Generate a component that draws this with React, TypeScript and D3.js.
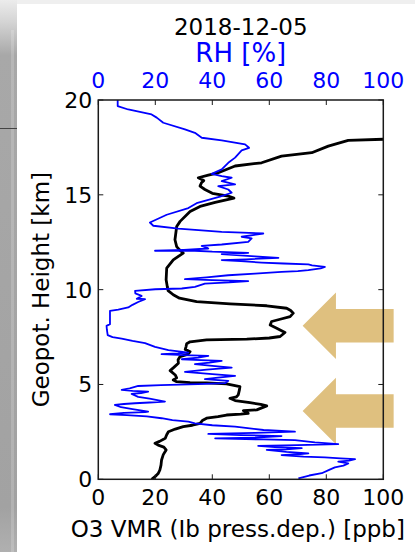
import * as d3 from "d3";

const W = 415;
const H = 552;
const PLOT = { left: 98.3, right: 383.3, top: 100, bottom: 479.3 };

// O3 volume mixing ratio [ppb] vs geopotential height [km]
const o3Ppb = [18.7, 20.0, 21.0, 21.6, 22.0, 22.2, 22.8, 23.8, 23.0, 21.0, 19.9, 21.5, 23.5, 24.0, 24.6, 27.0, 29.8, 33.0, 35.7, 36.5, 38.0, 42.0, 45.0, 50.0, 52.6, 50.9, 55.6, 59.1, 57.0, 53.2, 48.0, 46.2, 48.5, 49.1, 49.5, 49.7, 45.0, 38.0, 32.2, 27.5, 26.3, 27.5, 27.0, 25.2, 26.5, 28.1, 28.0, 28.7, 31.5, 32.2, 30.5, 30.8, 31.0, 32.2, 38.0, 52.1, 60.0, 63.8, 65.5, 62.6, 60.3, 60.8, 63.8, 67.3, 68.4, 67.5, 66.1, 59.1, 46.2, 34.5, 28.5, 26.3, 24.5, 24.2, 23.8, 24.0, 26.3, 29.8, 28.5, 27.5, 26.9, 27.5, 28.7, 32.2, 35.7, 41.0, 47.6, 45.6, 40.0, 37.4, 35.7, 36.2, 37.0, 35.1, 38.6, 42.1, 48.0, 57.3, 64.3, 74.9, 80.7, 87.7, 100, 115];
const o3Km = [0, 0.15, 0.3, 0.49, 0.75, 1.02, 1.3, 1.55, 1.7, 1.8, 1.9, 2.0, 2.16, 2.35, 2.51, 2.65, 2.78, 2.85, 2.95, 3.1, 3.22, 3.3, 3.39, 3.44, 3.48, 3.62, 3.66, 3.87, 3.95, 4.04, 4.15, 4.27, 4.35, 4.45, 4.7, 4.89, 5.03, 5.08, 5.1, 5.15, 5.24, 5.35, 5.5, 5.73, 5.9, 6.12, 6.3, 6.47, 6.6, 6.73, 6.85, 7.0, 7.15, 7.25, 7.35, 7.39, 7.45, 7.53, 7.74, 7.97, 8.14, 8.32, 8.44, 8.58, 8.76, 8.9, 9.02, 9.15, 9.25, 9.37, 9.55, 9.73, 9.95, 10.16, 10.52, 11.13, 11.57, 11.93, 12.1, 12.27, 12.63, 13.33, 13.6, 14.12, 14.39, 14.6, 14.83, 14.93, 15.08, 15.28, 15.46, 15.64, 15.75, 15.9, 16.04, 16.16, 16.52, 16.69, 17.04, 17.22, 17.57, 17.87, 17.93, 18.0];

// relative humidity [%] vs geopotential height [km]
const rhPct = [70.2, 74, 78.4, 81, 83, 86, 87.7, 84.2, 88, 90.1, 85, 79.5, 72, 64.3, 70, 73.7, 66, 59.1, 66, 71.4, 62, 56.1, 70, 84.2, 76, 69, 58, 41, 55, 64.3, 50, 38.6, 55, 69, 58, 48, 40, 33.9, 31.6, 26, 22.2, 17, 10, 4.1, 9, 16.4, 17.5, 12, 8, 5.8, 9, 12.9, 18, 23.4, 18, 14, 11.7, 15, 17.5, 12, 8.2, 11, 14, 22, 35, 44.5, 45.6, 37.4, 42, 48, 40, 30.4, 38, 46.8, 40, 33.9, 39, 43.3, 36, 29.3, 35, 38.6, 30, 22.2, 28, 31.6, 24.6, 19.9, 16.4, 12, 8.2, 5, 3.3, 3.0, 2.9, 4.1, 4.1, 4.1, 7, 10.5, 12, 14, 16.4, 13.5, 15.2, 13, 12.9, 20, 29.3, 33.9, 37.4, 46, 52.6, 40, 30.4, 38, 45.6, 55, 64.3, 70, 73.7, 78, 79.5, 75, 73.7, 65, 57.3, 50, 43.3, 52, 63.2, 55, 43.3, 52.6, 40, 33.9, 19.9, 30, 38.6, 36.3, 43.3, 52.6, 53.8, 50.3, 57.9, 43.3, 28.1, 19.3, 18.1, 24, 31.6, 34.5, 42.7, 46.8, 45.6, 42.1, 48, 43.3, 46.8, 43.3, 39.8, 43.3, 45.6, 48, 50.3, 52.9, 51.5, 43.3, 36.3, 33.9, 30.4, 22.8, 20.5, 18.7, 10.5, 6.8, 6.8, 6.8];
const rhKm = [0.05, 0.2, 0.32, 0.5, 0.63, 0.72, 0.84, 0.93, 0.98, 1.06, 1.1, 1.16, 1.2, 1.28, 1.32, 1.37, 1.45, 1.55, 1.58, 1.64, 1.7, 1.76, 1.8, 1.86, 1.95, 2.07, 2.1, 2.16, 2.2, 2.28, 2.33, 2.39, 2.45, 2.51, 2.6, 2.78, 2.85, 2.95, 3.04, 3.12, 3.22, 3.32, 3.38, 3.43, 3.5, 3.54, 3.57, 3.7, 3.8, 3.92, 3.97, 4.01, 4.05, 4.1, 4.25, 4.35, 4.5, 4.55, 4.62, 4.66, 4.71, 4.8, 4.92, 4.97, 5.02, 5.07, 5.19, 5.28, 5.36, 5.45, 5.55, 5.66, 5.78, 5.89, 5.98, 6.07, 6.15, 6.24, 6.28, 6.33, 6.42, 6.51, 6.55, 6.6, 6.64, 6.68, 6.81, 6.98, 7.18, 7.3, 7.42, 7.5, 7.6, 7.9, 8.09, 8.18, 8.6, 8.88, 8.95, 9.06, 9.2, 9.35, 9.5, 9.52, 9.67, 9.8, 9.94, 10.02, 10.06, 10.15, 10.32, 10.38, 10.45, 10.5, 10.55, 10.65, 10.76, 10.85, 10.94, 10.98, 11.03, 11.12, 11.2, 11.28, 11.33, 11.38, 11.43, 11.5, 11.56, 11.6, 11.68, 11.75, 11.87, 11.94, 12.0, 12.05, 12.05, 12.1, 12.17, 12.31, 12.38, 12.52, 12.7, 12.79, 12.96, 13.05, 13.22, 13.37, 13.54, 13.95, 14.3, 14.56, 14.91, 15.11, 15.28, 15.46, 15.55, 15.72, 15.9, 15.99, 16.11, 16.34, 16.69, 16.96, 17.34, 17.48, 17.66, 17.87, 18.01, 18.27, 18.45, 18.8, 19.07, 19.24, 19.5, 19.68, 20.0, 20.3];

const xTicks = [0, 20, 40, 60, 80, 100];
const yTicks = [0, 5, 10, 15, 20];

// highlighted layers (arrow tips)
const arrowO3 = [71.7, 71.7];
const arrowKm = [8.1, 3.6];

const FONT = "'DejaVu Sans', sans-serif";

export default function App() {
  const x = d3.scaleLinear().domain([0, 100]).range([PLOT.left, PLOT.right]);
  const y = d3.scaleLinear().domain([0, 20]).range([PLOT.bottom, PLOT.top]);

  const o3 = o3Ppb.map((v, i) => [v, o3Km[i]] as [number, number]);
  const rh = rhPct.map((v, i) => [v, rhKm[i]] as [number, number]);
  const line = d3
    .line<[number, number]>()
    .x((d) => x(d[0]))
    .y((d) => y(d[1]));

  const arrows = arrowO3.map((v, i) => {
    const tx = x(v);
    const ty = y(arrowKm[i]);
    const head = 33.3;
    const half = 33.3;
    const shaft = 16.7;
    const tail = tx + 91;
    return `M${tx},${ty} L${tx + head},${ty - half} L${tx + head},${ty - shaft} L${tail},${ty - shaft} L${tail},${ty + shaft} L${tx + head},${ty + shaft} L${tx + head},${ty + half} Z`;
  });

  const tickLen = 5;

  return (
    <>
      <style>{"body{margin:0}"}</style>
      <svg width={W} height={H} style={{ display: "block", background: "#fff" }}>
        <defs>
          <linearGradient id="strip" x1="0" y1="0" x2="0" y2="1">
            <stop offset="0" stopColor="#ececec" />
            <stop offset="0.04" stopColor="#d4d4d4" />
            <stop offset="0.1" stopColor="#a8a8a8" />
            <stop offset="0.92" stopColor="#a2a2a2" />
            <stop offset="1" stopColor="#b0b0b0" />
          </linearGradient>
          <clipPath id="plotClip">
            <rect x={PLOT.left} y={PLOT.top} width={PLOT.right - PLOT.left} height={PLOT.bottom - PLOT.top} />
          </clipPath>
        </defs>

        {/* screenshot frame bits */}
        <rect x={0} y={0} width={W} height={4} fill="#efefef" />
        <rect x={0} y={0} width={17} height={H} fill="url(#strip)" />
        <rect x={11} y={30} width={3} height={H - 30} fill="#fff" opacity={0.18} />
        <line x1={0} x2={17} y1={128.5} y2={128.5} stroke="#444" strokeWidth={1} />

        {arrows.map((d, i) => (
          <path key={i} d={d} fill="#dfc07f" />
        ))}

        <g clipPath="url(#plotClip)" fill="none" strokeLinejoin="round">
          <path d={line(o3) ?? ""} stroke="#000" strokeWidth={2.8} />
          <path d={line(rh) ?? ""} stroke="#0000ff" strokeWidth={1.8} />
        </g>

        {/* frame and inward ticks */}
        <rect
          x={PLOT.left}
          y={PLOT.top}
          width={PLOT.right - PLOT.left}
          height={PLOT.bottom - PLOT.top}
          fill="none"
          stroke="#1a1a1a"
          strokeWidth={1.5}
        />
        <g stroke="#1a1a1a" strokeWidth={1}>
          {xTicks.map((t) => (
            <g key={"x" + t}>
              <line x1={x(t)} x2={x(t)} y1={PLOT.bottom} y2={PLOT.bottom - tickLen} />
              <line x1={x(t)} x2={x(t)} y1={PLOT.top} y2={PLOT.top + tickLen} />
            </g>
          ))}
          {yTicks.map((t) => (
            <g key={"y" + t}>
              <line x1={PLOT.left} x2={PLOT.left + tickLen} y1={y(t)} y2={y(t)} />
              <line x1={PLOT.right} x2={PLOT.right - tickLen} y1={y(t)} y2={y(t)} />
            </g>
          ))}
        </g>

        <g fontFamily={FONT} fontSize={22}>
          {xTicks.map((t) => (
            <text key={"bx" + t} x={x(t)} y={505} textAnchor="middle" fill="#000">
              {t}
            </text>
          ))}
          {xTicks.map((t) => (
            <text key={"tx" + t} x={x(t)} y={88.3} textAnchor="middle" fill="#0000ff">
              {t}
            </text>
          ))}
          {yTicks.map((t) => (
            <text key={"ly" + t} x={PLOT.left - 6} y={y(t) + 8} textAnchor="end" fill="#000">
              {t}
            </text>
          ))}
        </g>

        <g fontFamily={FONT} fontSize={23}>
          <text x={(PLOT.left + PLOT.right) / 2} y={35} textAnchor="middle" fill="#000">
            2018-12-05
          </text>
          <text x={(PLOT.left + PLOT.right) / 2} y={62} textAnchor="middle" fill="#0000ff" fontSize={26}>
            RH [%]
          </text>
          <text x={(PLOT.left + PLOT.right) / 2 - 3} y={537} textAnchor="middle" fill="#000">
            O3 VMR (Ib press.dep.) [ppb]
          </text>
          <text
            transform={`translate(49, ${(PLOT.top + PLOT.bottom) / 2}) rotate(-90)`}
            textAnchor="middle"
            fill="#000"
          >
            Geopot. Height [km]
          </text>
        </g>
      </svg>
    </>
  );
}
